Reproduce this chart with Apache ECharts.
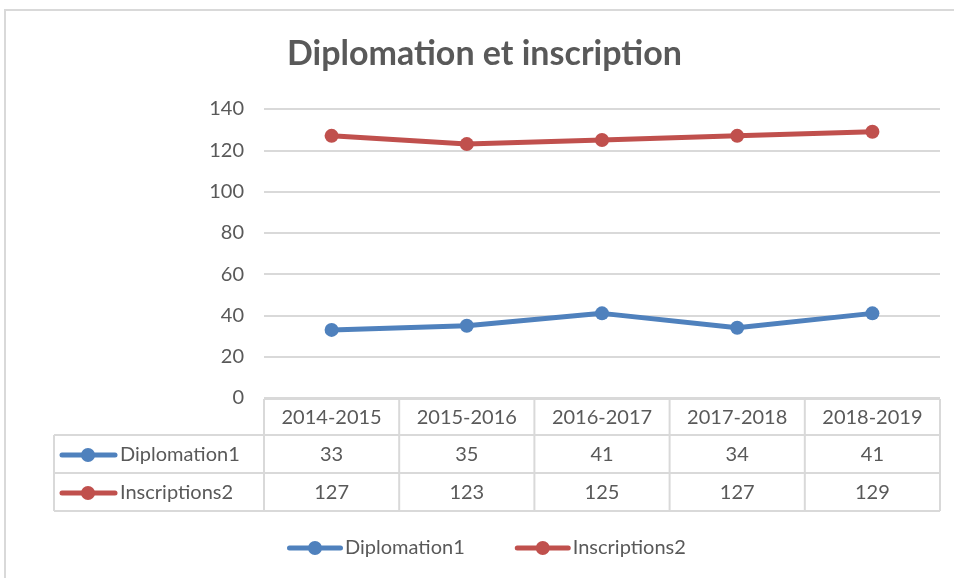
<!DOCTYPE html>
<html>
<head>
<meta charset="utf-8">
<script src="https://cdn.jsdelivr.net/npm/echarts@6/dist/echarts.min.js"></script>
<style>
  html, body { margin: 0; padding: 0; background: #fff; }
  #chart { width: 954px; height: 578px; }
</style>
</head>
<body>
<div id="chart"></div>
<script>
const categories = ['2014-2015', '2015-2016', '2016-2017', '2017-2018', '2018-2019'];
const seriesNames = ['Diplomation1', 'Inscriptions2'];
const diplomation = [33, 35, 41, 34, 41];
const inscriptions = [127, 123, 125, 127, 129];
const seriesColors = ['#4F81BD', '#C0504D'];

const FONT = 'Lato, "Noto Sans", sans-serif';
const TEXT = '#595959';
const LINE = '#D9D9D9';
// line with a dot in the middle, same look as the Excel legend key
const KEY_ICON = 'path://M2.5,4.5 H53.5 A2.5,2.5 0 0 1 53.5,9.5 H2.5 A2.5,2.5 0 0 1 2.5,4.5 Z M21,7 A7,7 0 1 1 35,7 A7,7 0 1 1 21,7 Z';

const chart = echarts.init(document.getElementById('chart'));

function lineSeries(name, data, color) {
  return {
    name: name,
    type: 'line',
    data: data,
    symbol: 'circle',
    symbolSize: 14,
    color: color,
    lineStyle: { width: 5, color: color },
    itemStyle: { color: color },
    animation: false,
  };
}

chart.setOption({
  animation: false,
  textStyle: { fontFamily: FONT },
  title: {
    text: 'Diplomation et inscription',
    left: 282,
    top: 32,
    textStyle: { fontFamily: FONT, fontSize: 34, fontWeight: 'bold', color: TEXT },
  },
  grid: { left: 264, right: 14, top: 109, bottom: 180 },
  xAxis: {
    type: 'category',
    data: categories,
    boundaryGap: true,
    axisLine: { show: false },
    axisTick: { show: false },
    axisLabel: { show: false },
  },
  yAxis: {
    type: 'value',
    min: 0,
    max: 140,
    interval: 20,
    axisLine: { show: false },
    axisTick: { show: false },
    axisLabel: { color: TEXT, fontSize: 20, fontFamily: FONT, margin: 20 },
    splitLine: { lineStyle: { color: LINE, width: 2 } },
  },
  legend: {
    left: 287,
    top: 538,
    padding: 0,
    itemWidth: 56,
    itemHeight: 14,
    itemGap: 50,
    icon: KEY_ICON,
    textStyle: { color: TEXT, fontSize: 20, fontFamily: FONT, padding: [0, 0, 0, -3] },
    data: seriesNames,
  },
  series: [
    lineSeries(seriesNames[0], diplomation, seriesColors[0]),
    lineSeries(seriesNames[1], inscriptions, seriesColors[1]),
  ],
});

// data table below the plot, laid out from the category axis
function buildTable() {
  const rows = [diplomation, inscriptions];
  const x0 = chart.convertToPixel({ xAxisIndex: 0 }, 0);
  const x1 = chart.convertToPixel({ xAxisIndex: 0 }, 1);
  const colW = x1 - x0;
  const left = x0 - colW / 2;
  const right = left + colW * categories.length;
  const top = chart.convertToPixel({ yAxisIndex: 0 }, 0) + 1;
  const headH = 36;
  const rowH = 38;
  const labelLeft = 54;
  const bottom = top + headH + rowH * rows.length;
  const els = [];
  const line = (xa, ya, xb, yb) => els.push({
    type: 'line', shape: { x1: xa, y1: ya, x2: xb, y2: yb },
    style: { stroke: LINE, lineWidth: 2 }, z: 10,
  });
  const text = (x, y, s, align) => els.push({
    type: 'text', x: x, y: y, z: 11,
    style: { text: s, fill: TEXT, font: '20px ' + FONT, align: align || 'center', verticalAlign: 'middle' },
  });

  // outer chart frame
  els.push({ type: 'rect', shape: { x: 5, y: 10, width: 960, height: 600 },
    style: { fill: 'none', stroke: LINE, lineWidth: 2 }, z: 1 });

  // horizontal rules
  line(left, top, right, top);
  line(labelLeft, top + headH, right, top + headH);
  for (let r = 1; r <= rows.length; r++) line(labelLeft, top + headH + rowH * r, right, top + headH + rowH * r);
  // vertical rules
  line(labelLeft, top + headH, labelLeft, bottom);
  for (let c = 0; c <= categories.length; c++) line(left + colW * c, top, left + colW * c, bottom);

  categories.forEach((cat, c) => text(left + colW * (c + 0.5), top + headH / 2 + 1, cat));
  rows.forEach((vals, r) => {
    const cy = top + headH + rowH * (r + 0.5) + 1;
    vals.forEach((v, c) => text(left + colW * (c + 0.5), cy, String(v)));
    els.push({ type: 'line', shape: { x1: 62, y1: cy, x2: 115, y2: cy },
      style: { stroke: seriesColors[r], lineWidth: 5, lineCap: 'round' }, z: 11 });
    els.push({ type: 'circle', shape: { cx: 88, cy: cy, r: 7 },
      style: { fill: seriesColors[r] }, z: 12 });
    text(120, cy, seriesNames[r], 'left');
  });
  chart.setOption({ graphic: { elements: els } });
}
buildTable();
</script>
</body>
</html>
